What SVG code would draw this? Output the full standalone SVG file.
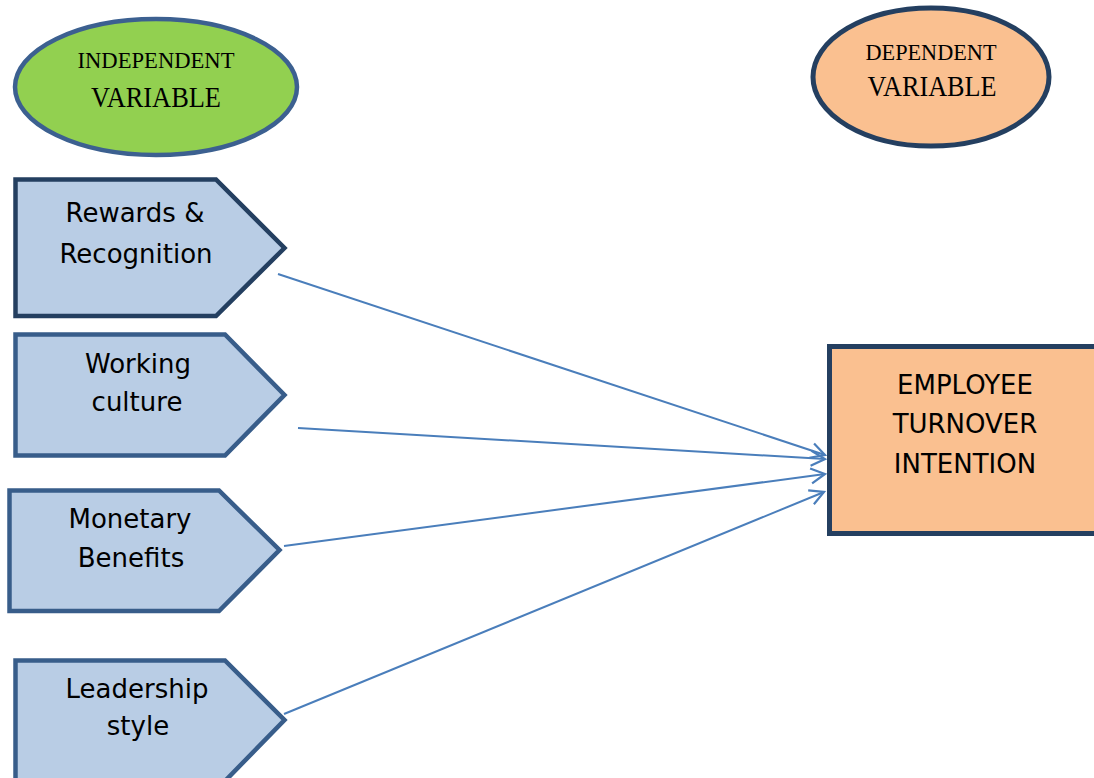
<svg xmlns="http://www.w3.org/2000/svg" width="1094" height="778" viewBox="0 0 1094 778">
<style>
.pent{fill:#b9cde5;stroke:#385d8a;stroke-width:4.5;stroke-linejoin:miter}
.pent.dark{stroke:#243f60}
.lbl{font-family:"DejaVu Sans","Liberation Sans",sans-serif;font-size:26px;fill:#000;text-anchor:middle}
.ser{font-family:"Liberation Serif","DejaVu Serif",serif;fill:#000;text-anchor:middle}
.conn{stroke:#4a7ebb;stroke-width:2;fill:none}
</style>
<defs>
<marker id="arr" markerUnits="userSpaceOnUse" markerWidth="22" markerHeight="22" viewBox="0 0 22 22" refX="17" refY="11" orient="auto">
<path d="M3,3.5 L17,11 L3,18.5" fill="none" stroke="#4a7ebb" stroke-width="2.2"/>
</marker>
</defs>
<rect width="1094" height="778" fill="#fff"/>
<g id="independent-variable">
<ellipse cx="156" cy="87" rx="141" ry="68" fill="#92d050" stroke="#3c6090" stroke-width="4.5"/>
<text class="ser" x="156" y="68" font-size="23.5" textLength="157" lengthAdjust="spacingAndGlyphs">INDEPENDENT</text>
<text class="ser" x="156" y="107" font-size="28.5" textLength="130" lengthAdjust="spacingAndGlyphs">VARIABLE</text>
</g>
<g id="dependent-variable">
<ellipse cx="931" cy="77" rx="118" ry="69" fill="#fac090" stroke="#243f60" stroke-width="5"/>
<text class="ser" x="931" y="60" font-size="23.5" textLength="131" lengthAdjust="spacingAndGlyphs">DEPENDENT</text>
<text class="ser" x="932" y="96" font-size="28.5" textLength="129" lengthAdjust="spacingAndGlyphs">VARIABLE</text>
</g>
<g id="rewards-recognition">
<polygon class="pent dark" points="15.5,179.5 216,179.5 284.5,248 216,316 15.5,316"/>
<text class="lbl" x="135" y="222">Rewards &amp;</text>
<text class="lbl" x="136" y="263">Recognition</text>
</g>
<g id="working-culture">
<polygon class="pent" points="15.5,334.5 225,334.5 284.5,395 225,455.5 15.5,455.5"/>
<text class="lbl" x="138" y="373">Working</text>
<text class="lbl" x="137" y="411">culture</text>
</g>
<g id="monetary-benefits">
<polygon class="pent" points="9.5,490.5 219,490.5 279.5,550 219,611 9.5,611"/>
<text class="lbl" x="130" y="528">Monetary</text>
<text class="lbl" x="131" y="567">Benefits</text>
</g>
<g id="leadership-style">
<polygon class="pent" points="15.5,660.5 225,660.5 284.5,720 225,781 15.5,781"/>
<text class="lbl" x="137" y="698">Leadership</text>
<text class="lbl" x="138" y="735">style</text>
</g>
<g id="employee-turnover-intention">
<rect x="829.5" y="346.5" width="280" height="187" fill="#fac090" stroke="#243f60" stroke-width="5"/>
<text class="lbl" x="965" y="394">EMPLOYEE</text>
<text class="lbl" x="965" y="433">TURNOVER</text>
<text class="lbl" x="965" y="473">INTENTION</text>
</g>
<g id="connectors">
<line class="conn" x1="278" y1="274" x2="825" y2="455" marker-end="url(#arr)"/>
<line class="conn" x1="298" y1="428" x2="825" y2="459" marker-end="url(#arr)"/>
<line class="conn" x1="284" y1="546" x2="825" y2="474" marker-end="url(#arr)"/>
<line class="conn" x1="284" y1="714" x2="824" y2="492" marker-end="url(#arr)"/>
</g>
</svg>
